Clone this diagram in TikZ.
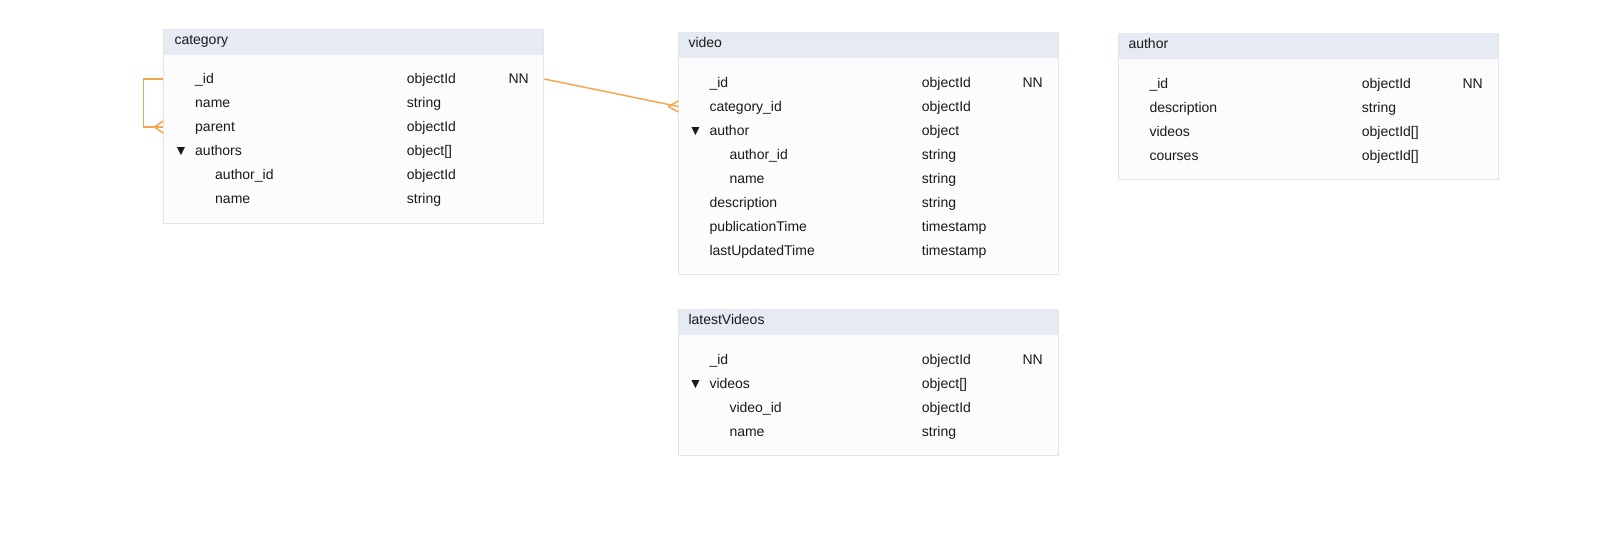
\documentclass[tikz,border=0pt]{standalone}
\usepackage{fontspec}
\setmainfont{Liberation Sans}
\definecolor{hdrfill}{RGB}{229,234,243}
\definecolor{bodyfill}{RGB}{252,252,253}
\definecolor{frame}{RGB}{226,229,236}
\definecolor{link}{RGB}{242,168,78}
\definecolor{ink}{RGB}{26,26,26}
\tikzset{
  tbl/.style={draw=frame, fill=bodyfill, line width=1pt, minimum width=380pt, anchor=north west, inner sep=0pt},
  hdr/.style={fill=hdrfill, minimum width=379pt, minimum height=25pt, anchor=north west, inner sep=0pt},
  txt/.style={anchor=base west, inner sep=0pt, text=ink, font=\fontsize{14}{17}\selectfont},
  rel/.style={draw=link, line width=1.5pt},
}
\begin{document}
\begin{tikzpicture}[x=1pt,y=-1pt]
\useasboundingbox (0,0) rectangle (1598,555);

% ---------- category ----------
\node[tbl, minimum height=194pt] (cat) at (163.3,29.3) {};
\node[hdr] (cath) at (163.8,29.8) {};
\node[txt] (catt) at (174.3,44) {category};
\node[txt] (c1) at (195,83.5) {\_id};
\node[txt] at (406.7,83.5) {objectId};
\node[txt] at (508.3,83.5) {NN};
\node[txt] (c2) at (195,107.5) {name};
\node[txt] at (406.7,107.5) {string};
\node[txt] (c3) at (195,131.5) {parent};
\node[txt] at (406.7,131.5) {objectId};
\node[txt] at (174,155.5) {▼};
\node[txt] (c4) at (195,155.5) {authors};
\node[txt] at (406.7,155.5) {object[]};
\node[txt] (c5) at (215,179.5) {author\_id};
\node[txt] at (406.7,179.5) {objectId};
\node[txt] (c6) at (215,203.5) {name};
\node[txt] at (406.7,203.5) {string};

% ---------- video ----------
\node[tbl, minimum height=242pt] (vid) at (678.3,32.3) {};
\node[hdr] (vidh) at (678.8,32.8) {};
\node[txt] (vidt) at (688.3,47) {video};
\node[txt] (v1) at (709.3,87) {\_id};
\node[txt] at (921.7,87) {objectId};
\node[txt] at (1022.3,87) {NN};
\node[txt] (v2) at (709.3,111) {category\_id};
\node[txt] at (921.7,111) {objectId};
\node[txt] at (688.5,135) {▼};
\node[txt] (v3) at (709.3,135) {author};
\node[txt] at (921.7,135) {object};
\node[txt] (v4) at (729.3,159) {author\_id};
\node[txt] at (921.7,159) {string};
\node[txt] (v5) at (729.3,183) {name};
\node[txt] at (921.7,183) {string};
\node[txt] (v6) at (709.3,207) {description};
\node[txt] at (921.7,207) {string};
\node[txt] (v7) at (709.3,231) {publicationTime};
\node[txt] at (921.7,231) {timestamp};
\node[txt] (v8) at (709.3,255) {lastUpdatedTime};
\node[txt] at (921.7,255) {timestamp};

% ---------- author ----------
\node[tbl, minimum height=146pt] (aut) at (1118.3,33) {};
\node[hdr] (auth) at (1118.8,33.5) {};
\node[txt] (autt) at (1128.3,48) {author};
\node[txt] (a1) at (1149.3,88.5) {\_id};
\node[txt] at (1361.7,88.5) {objectId};
\node[txt] at (1462.3,88.5) {NN};
\node[txt] (a2) at (1149.3,112.5) {description};
\node[txt] at (1361.7,112.5) {string};
\node[txt] (a3) at (1149.3,136.5) {videos};
\node[txt] at (1361.7,136.5) {objectId[]};
\node[txt] (a4) at (1149.3,160.5) {courses};
\node[txt] at (1361.7,160.5) {objectId[]};

% ---------- latestVideos ----------
\node[tbl, minimum height=146pt] (lat) at (678.3,309.3) {};
\node[hdr] (lath) at (678.8,309.8) {};
\node[txt] (latt) at (688.3,324) {latestVideos};
\node[txt] (l1) at (709.3,364) {\_id};
\node[txt] at (921.7,364) {objectId};
\node[txt] at (1022.3,364) {NN};
\node[txt] at (688.5,388) {▼};
\node[txt] (l2) at (709.3,388) {videos};
\node[txt] at (921.7,388) {object[]};
\node[txt] (l3) at (729.3,412) {video\_id};
\node[txt] at (921.7,412) {objectId};
\node[txt] (l4) at (729.3,436) {name};
\node[txt] at (921.7,436) {string};

% ---------- relations (crow's foot on the many side) ----------
\coordinate (catid) at ([yshift=4.5pt]c1.base);
\coordinate (catpar) at ([yshift=4.5pt]c3.base);
\coordinate (vidcat) at ([yshift=4.5pt]v2.base);

% category.parent -> category._id
\draw[rel] (cat.west |- catid) -- ++(-20,0) |- (cat.west |- catpar);
\draw[rel] (cat.west |- catpar) ++(-9,0) -- ++(9,-6)
           (cat.west |- catpar) ++(-9,0) -- ++(9,6);

% video.category_id -> category._id
\draw[rel] (cat.east |- catid) -- (vid.west |- vidcat);
\draw[rel] (vid.west |- vidcat) ++(-10,0) -- ++(10,-5.5)
           (vid.west |- vidcat) ++(-10,0) -- ++(10,5.5);
\end{tikzpicture}
\end{document}
